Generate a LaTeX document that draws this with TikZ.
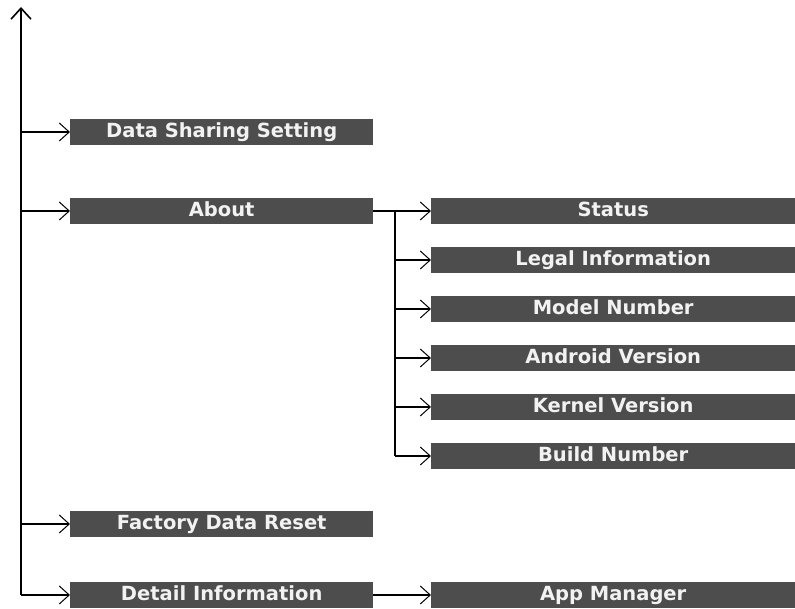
\documentclass[tikz,border=0pt]{standalone}
\usepackage{fontspec}
\setmainfont{DejaVu Sans}
\usetikzlibrary{arrows.meta}
\definecolor{boxgray}{HTML}{4D4D4D}
\definecolor{txt}{HTML}{F2F2F2}
\tikzset{
  menubox/.style={fill=boxgray, text=txt, inner sep=0pt, minimum height=26pt,
    text height=14pt, text depth=2.4pt,
    font=\fontsize{19.5pt}{21pt}\selectfont\bfseries, anchor=west},
  leftbox/.style={menubox, minimum width=303pt},
  rightbox/.style={menubox, minimum width=364pt},
  conn/.style={line width=2pt, -{Straight Barb[length=10pt,width=18pt,line width=1pt]}},
  trunkline/.style={line width=2pt},
}
\begin{document}
\begin{tikzpicture}[x=1pt,y=1pt]
\useasboundingbox (0,0) rectangle (795,609);
% left column
\node[leftbox] (ds) at (70,609-132) {Data Sharing Setting};
\node[leftbox] (about) at (70,609-211) {About};
\node[leftbox] (fdr) at (70,609-524) {Factory Data Reset};
\node[leftbox] (detail) at (70,609-595) {Detail Information};
% right column
\node[rightbox] (status) at (431,609-211) {Status};
\node[rightbox] (legal) at (431,609-260) {Legal Information};
\node[rightbox] (model) at (431,609-309) {Model Number};
\node[rightbox] (android) at (431,609-358) {Android Version};
\node[rightbox] (kernel) at (431,609-407) {Kernel Version};
\node[rightbox] (build) at (431,609-456) {Build Number};
\node[rightbox] (app) at (431,609-595) {App Manager};
% trunk
\coordinate (top) at (21,609-7);
\coordinate (trunk) at (21,609-595);
\draw[line width=2pt, -{Straight Barb[length=11pt,width=20pt,line width=1.6pt]}] (trunk) -- (top);
\foreach \n in {ds,about,fdr,detail}{
  \draw[conn] (\n.west -| trunk) -- (\n.west);
}
% sub trunk
\coordinate (sub) at (395,609-211);
\draw[trunkline] (sub) -- (build.west -| sub);
\draw[conn] (about.east) -- (status.west);
\foreach \n in {legal,model,android,kernel,build}{
  \draw[conn] (\n.west -| sub) -- (\n.west);
}
\draw[conn] (detail.east) -- (app.west);
\end{tikzpicture}
\end{document}
